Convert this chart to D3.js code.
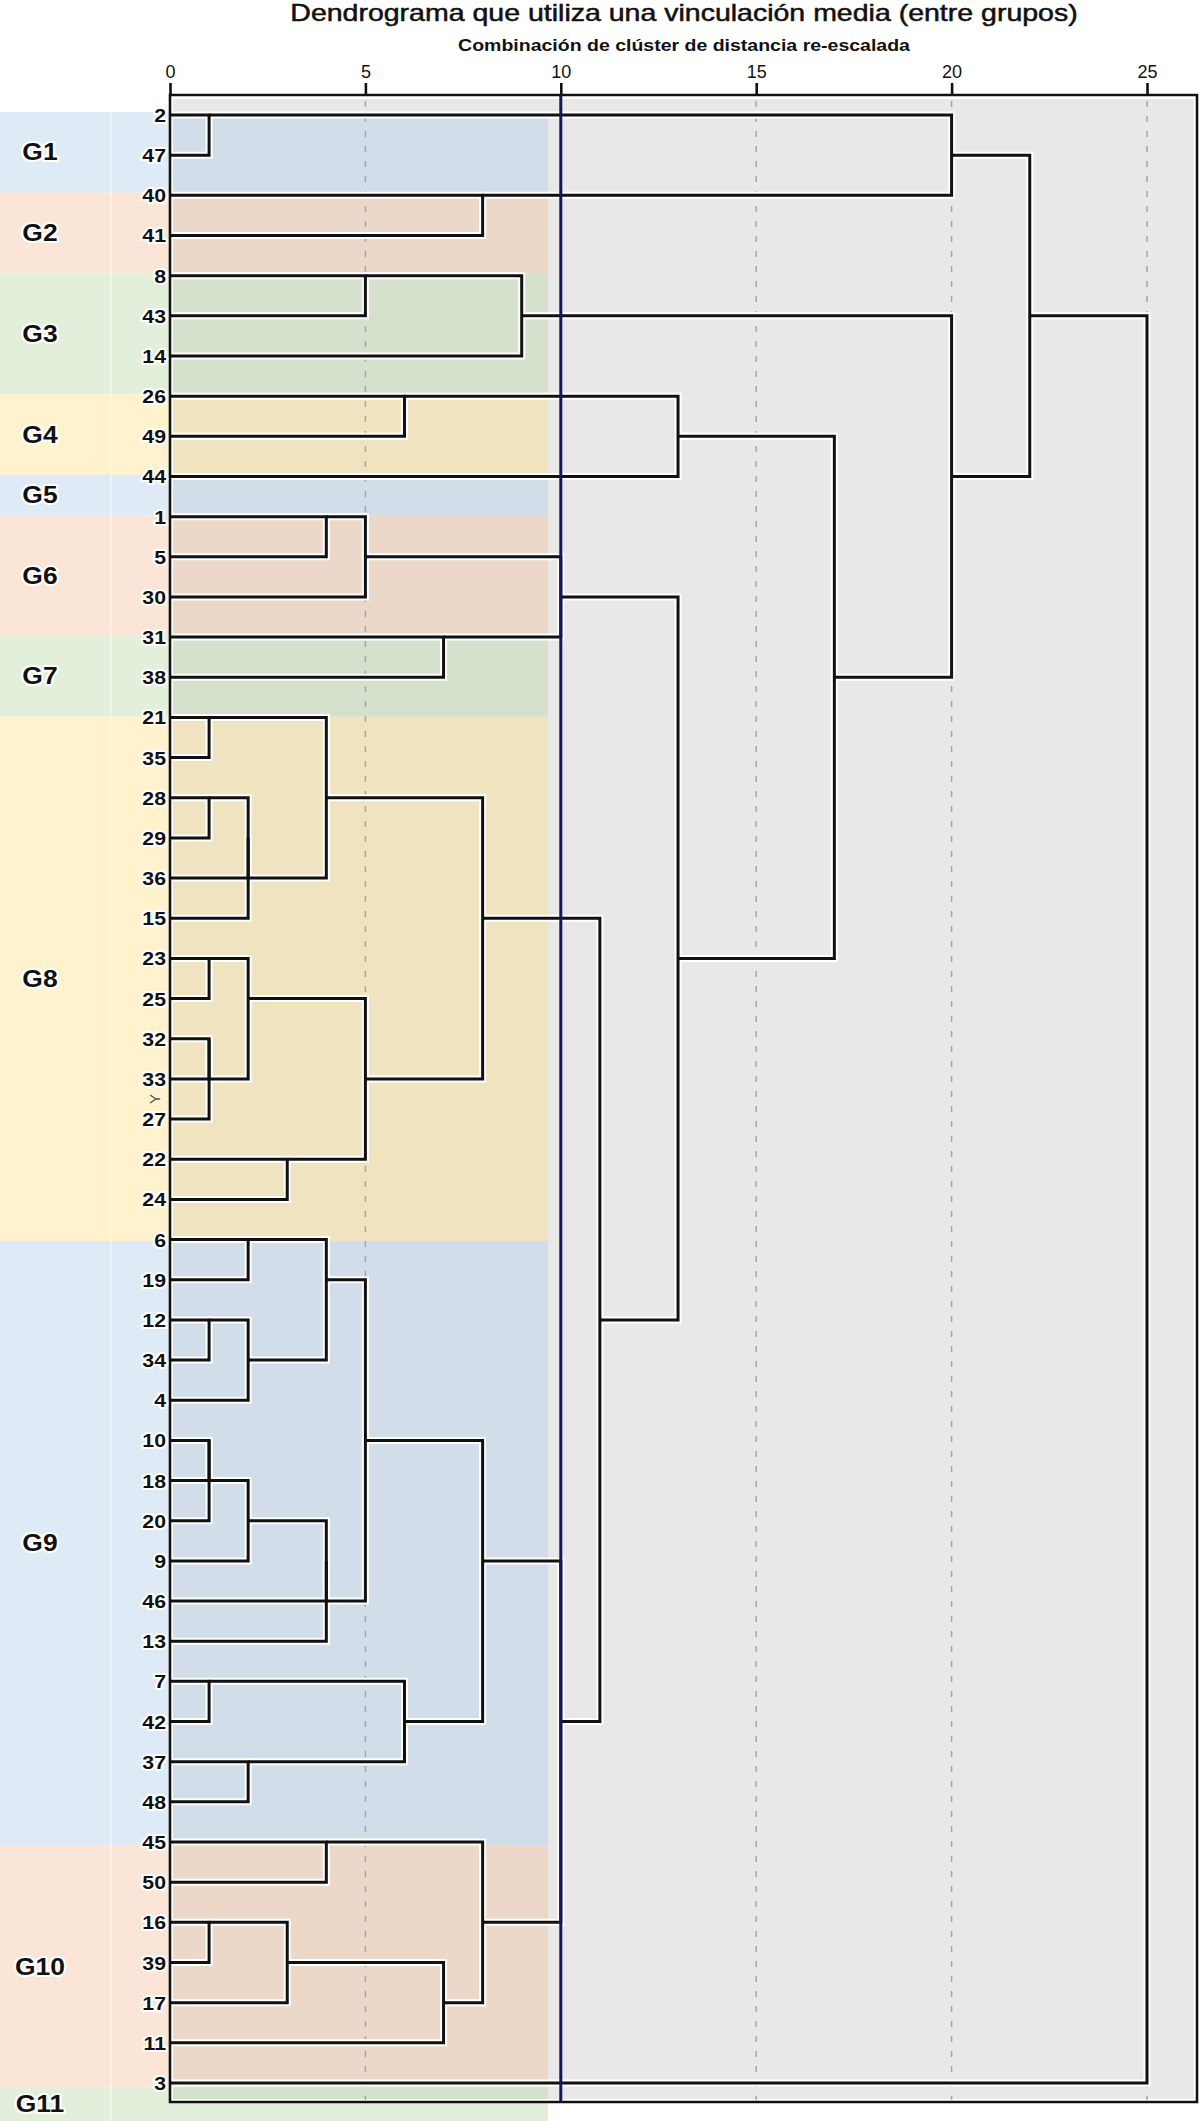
<!DOCTYPE html>
<html>
<head>
<meta charset="utf-8">
<script src="https://cdn.jsdelivr.net/npm/d3@7"></script>
<style>
  body { margin:0; background:#fff; }
  svg { display:block; font-family:"Liberation Sans", Arial, sans-serif; }
</style>
</head>
<body>
<svg id="chart" width="1199" height="2121"></svg>
<script>
// leaf order, top to bottom
const leaves = ["2","47","40","41","8","43","14","26","49","44","1","5","30","31","38",
  "21","35","28","29","36","15","23","25","32","33","27","22","24",
  "6","19","12","34","4","10","18","20","9","46","13","7","42","37","48",
  "45","50","16","39","17","11","3"];

const groupNames = ["G1","G2","G3","G4","G5","G6","G7","G8","G9","G10","G11"];
const groupSizes = [2,2,3,2,1,3,2,13,15,6,1];
const groupColors = ["#deebf7","#fbe5d6","#e2efda","#fff2cc"];

const ticks = [0,5,10,15,20,25];
const cutAt = 10;

// [leaf A, A starts at, leaf B, B starts at, merge distance]
const links = [
  ["2",0,"47",0,1],
  ["40",0,"41",0,8],
  ["2",1,"40",8,20],
  ["8",0,"43",0,5],
  ["8",5,"14",0,9],
  ["26",0,"49",0,6],
  ["26",6,"44",0,13],
  ["1",0,"5",0,4],
  ["1",4,"30",0,5],
  ["31",0,"38",0,7],
  ["5",5,"31",7,10],
  ["21",0,"35",0,1],
  ["28",0,"29",0,1],
  ["28",1,"36",0,2],
  ["29",2,"15",0,2],
  ["21",1,"36",2,4],
  ["23",0,"25",0,1],
  ["32",0,"33",0,1],
  ["32",1,"27",0,1],
  ["23",1,"33",1,2],
  ["22",0,"24",0,3],
  ["25",2,"22",3,5],
  ["28",4,"33",5,8],
  ["6",0,"19",0,2],
  ["12",0,"34",0,1],
  ["12",1,"4",0,2],
  ["6",2,"34",2,4],
  ["10",0,"18",0,1],
  ["10",1,"20",0,1],
  ["18",1,"9",0,2],
  ["20",2,"46",0,4],
  ["9",4,"13",0,4],
  ["19",4,"46",4,5],
  ["7",0,"42",0,1],
  ["37",0,"48",0,2],
  ["7",1,"37",2,6],
  ["10",5,"42",6,8],
  ["45",0,"50",0,4],
  ["16",0,"39",0,1],
  ["16",1,"17",0,3],
  ["39",3,"11",0,7],
  ["45",4,"17",7,8],
  ["9",8,"16",8,10],
  ["15",8,"42",10,11],
  ["30",10,"12",11,13],
  ["49",13,"23",13,17],
  ["43",9,"38",17,20],
  ["47",20,"44",20,22],
  ["43",22,"3",0,25]
];

const svg = d3.select("#chart");
const pLeft = 170, pRight = 1197, pTop = 95, pBottom = 2102, bandEnd = 548;

const x = d3.scaleLinear().domain([0,25]).range([pLeft,1147]);
const y = d3.scalePoint().domain(leaves).range([115,2083]);
const band = d3.scaleLinear().domain([0,leaves.length]).range([112,2128]);

// group rows
let start = 0;
const groups = groupNames.map((name,i)=>{
  const g = {name, from:start, to:start+groupSizes[i], color:groupColors[i%4]};
  start += groupSizes[i];
  return g;
});

// light bands behind labels
svg.append("g").selectAll("rect").data(groups).join("rect")
  .attr("x",0).attr("width",bandEnd)
  .attr("y",d=>band(d.from))
  .attr("height",d=>Math.min(band(d.to),2121)-band(d.from))
  .attr("fill",d=>d.color);

svg.append("line")
  .attr("x1",111).attr("x2",111).attr("y1",band(0)).attr("y2",2121)
  .attr("stroke","#fff").attr("stroke-opacity",0.8).attr("stroke-width",1);

// plot area
svg.append("rect").attr("x",pLeft).attr("y",pTop).attr("width",pRight-pLeft).attr("height",pBottom-pTop).attr("fill","#fff");
svg.append("rect").attr("x",pLeft+3).attr("y",pTop+4).attr("width",pRight-pLeft-6).attr("height",pBottom-pTop-7).attr("fill","#e8e8e8");

svg.append("g").selectAll("rect").data(groups).join("rect")
  .attr("x",pLeft+3).attr("width",bandEnd-pLeft-3)
  .attr("y",d=>Math.max(band(d.from),pTop+4))
  .attr("height",d=>Math.min(band(d.to),pBottom-3)-Math.max(band(d.from),pTop+4))
  .attr("fill",d=>d3.rgb(d.color).darker(0.17));

// dashed grid
svg.append("g").selectAll("line").data(ticks.filter(t=>t>0 && t!==cutAt)).join("line")
  .attr("x1",d=>x(d)).attr("x2",d=>x(d))
  .attr("y1",pTop+6).attr("y2",pBottom-2)
  .attr("stroke","#a6a6a6").attr("stroke-width",1.5).attr("stroke-dasharray","6,9");

// dendrogram brackets
const linkPath = d=>`M${x(d[1])},${y(d[0])}H${x(d[4])}V${y(d[2])}H${x(d[3])}`;
svg.append("g").selectAll("path").data(links).join("path")
  .attr("d",linkPath).attr("fill","none")
  .attr("stroke","#fff").attr("stroke-width",7);
svg.append("g").selectAll("path").data(links).join("path")
  .attr("d",linkPath).attr("fill","none")
  .attr("stroke","#111").attr("stroke-width",3).attr("stroke-linejoin","miter");

// frame
svg.append("path")
  .attr("d",`M${pLeft},${pTop}H${pRight}V${pBottom}H${pLeft}Z`)
  .attr("fill","none").attr("stroke","#111").attr("stroke-width",2.6);

// cut line
svg.append("line")
  .attr("x1",x(cutAt)).attr("x2",x(cutAt)).attr("y1",pTop).attr("y2",pBottom)
  .attr("stroke","#16165c").attr("stroke-width",3);

// axis
const axis = svg.append("g").attr("transform",`translate(0,${pTop})`)
  .call(d3.axisTop(x).tickValues(ticks).tickSize(12).tickPadding(5));
axis.select(".domain").remove();
axis.selectAll(".tick line").attr("stroke","#111").attr("stroke-width",2.6);
axis.selectAll(".tick text").attr("font-size",18).attr("fill","#111");

// leaf labels
svg.append("g").selectAll("text").data(leaves).join("text")
  .attr("transform",d=>`translate(166,${y(d)+7}) scale(1.12,1)`)
  .attr("text-anchor","end")
  .attr("font-size",19).attr("font-weight","bold").attr("fill","#111")
  .attr("stroke","#fff").attr("stroke-width",4).attr("stroke-linejoin","round")
  .attr("paint-order","stroke")
  .text(d=>d);

// group labels
svg.append("g").selectAll("text").data(groups).join("text")
  .attr("transform",d=>`translate(40,${(band(d.from)+Math.min(band(d.to),2121))/2+8}) scale(1.15,1)`)
  .attr("text-anchor","middle")
  .attr("font-size",23).attr("font-weight","bold").attr("fill","#111")
  .attr("stroke","#fff").attr("stroke-width",4).attr("stroke-linejoin","round")
  .attr("paint-order","stroke")
  .text(d=>d.name);

// stray mark next to leaf 27
svg.append("text")
  .attr("transform",`translate(154,${(y("33")+y("27"))/2}) rotate(-90)`)
  .attr("text-anchor","middle").attr("dominant-baseline","central")
  .attr("font-size",15).attr("fill","#555")
  .text("Y");

// titles
svg.append("text")
  .attr("transform","translate(684,21) scale(1.24,1)")
  .attr("text-anchor","middle").attr("font-size",23).attr("fill","#111")
  .attr("stroke","#111").attr("stroke-width",0.5)
  .text("Dendrograma que utiliza una vinculación media (entre grupos)");
svg.append("text")
  .attr("transform","translate(684,51) scale(1.22,1)")
  .attr("text-anchor","middle").attr("font-size",16).attr("font-weight","bold").attr("fill","#111")
  .text("Combinación de clúster de distancia re-escalada");
</script>
</body>
</html>
